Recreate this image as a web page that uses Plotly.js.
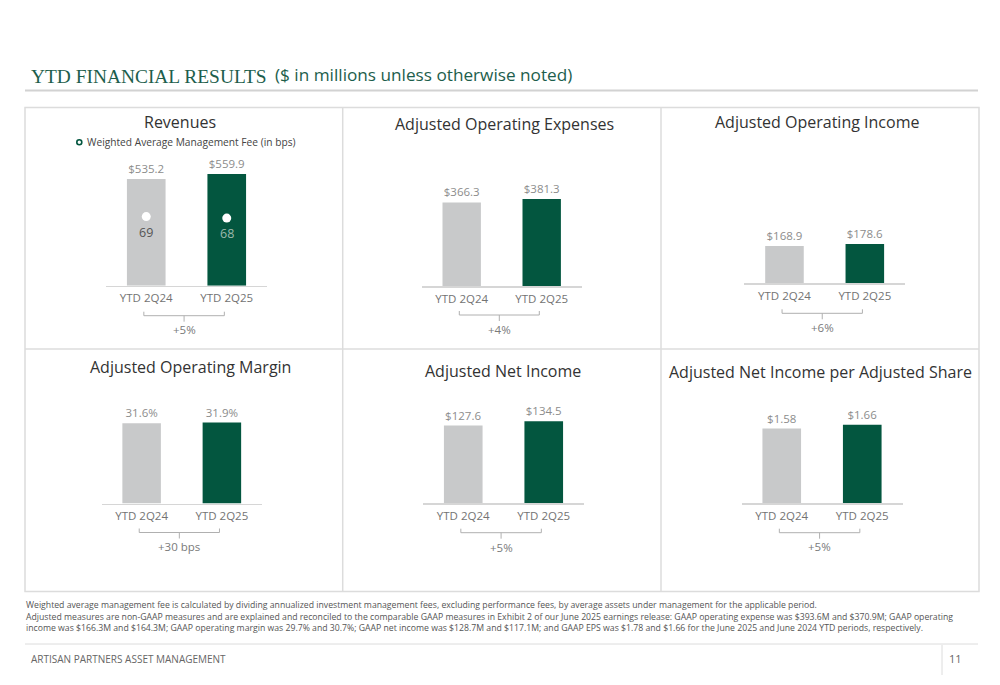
<!DOCTYPE html>
<html>
<head>
<meta charset="utf-8">
<script src="https://cdn.plot.ly/plotly-3.0.1.min.js"></script>
<style>html,body{margin:0;padding:0;background:#fff;}#chart{width:1000px;height:685px;}</style>
</head>
<body>
<div id="chart"></div>
<script>
// ---- Data ----
const categories = ['YTD 2Q24', 'YTD 2Q25'];
const revenues = [535.2, 559.9];
const mgmtFeeBps = [69, 68];
const adjOpExpenses = [366.3, 381.3];
const adjOpIncome = [168.9, 178.6];
const adjOpMargin = [31.6, 31.9];
const adjNetIncome = [127.6, 134.5];
const adjEPS = [1.58, 1.66];
const panelTitles = ['Revenues', 'Adjusted Operating Expenses', 'Adjusted Operating Income',
  'Adjusted Operating Margin', 'Adjusted Net Income', 'Adjusted Net Income per Adjusted Share'];
const changeLabels = ['+5%', '+4%', '+6%', '+30 bps', '+5%', '+5%'];
const feeLegend = 'Weighted Average Management Fee (in bps)';
const footnotes = [
  'Weighted average management fee is calculated by dividing annualized investment management fees, excluding performance fees, by average assets under management for the applicable period.',
  'Adjusted measures are non-GAAP measures and are explained and reconciled to the comparable GAAP measures in Exhibit 2 of our June 2025 earnings release: GAAP operating expense was $393.6M and $370.9M; GAAP operating',
  'income was $166.3M and $164.3M; GAAP operating margin was 29.7% and 30.7%; GAAP net income was $128.7M and $117.1M; and GAAP EPS was $1.78 and $1.66 for the June 2025 and June 2024 YTD periods, respectively.'
];

// ---- Styling ----
const W = 1000, H = 685;
const px = x => x / W;
const py = y => 1 - y / H;
const barColors = ['#c8c9ca', '#03563f'];
const green = '#1d5e4c';
const FONT = 'Open Sans, sans-serif';

const fmtMoney1 = v => '$' + v.toFixed(1);
const fmtPct = v => v.toFixed(1) + '%';
const fmtMoney2 = v => '$' + v.toFixed(2);

const series = [
  {y: revenues, fmt: fmtMoney1},
  {y: adjOpExpenses, fmt: fmtMoney1},
  {y: adjOpIncome, fmt: fmtMoney1},
  {y: adjOpMargin, fmt: fmtPct},
  {y: adjNetIncome, fmt: fmtMoney1},
  {y: adjEPS, fmt: fmtMoney2}
];

// panel geometry in pixels
const geom = [
  {x0: 106, x1: 267, base: 285.7, top: 140, ymax: 731, brY: 315.7, lblY: 329.5, tx: 180, ty: 122.5},
  {x0: 421.7, x1: 581.7, base: 286.3, top: 140, ymax: 639, brY: 315, lblY: 329.3, tx: 504, ty: 124.3},
  {x0: 744.3, x1: 905, base: 283.3, top: 140, ymax: 650, brY: 313.3, lblY: 327.6, tx: 817, ty: 122.5},
  {x0: 101.5, x1: 262, base: 503.5, top: 390, ymax: 44.7, brY: 532.5, lblY: 546.7, tx: 190, ty: 367.3},
  {x0: 423, x1: 584, base: 503.3, top: 390, ymax: 186, brY: 532.7, lblY: 547, tx: 503.5, ty: 371},
  {x0: 741.5, x1: 902.5, base: 503.3, top: 390, ymax: 2.395, brY: 532.7, lblY: 546.3, tx: 820.5, ty: 372}
];

const traces = [];
const layout = {
  width: W, height: H,
  margin: {l: 0, r: 0, t: 0, b: 0},
  paper_bgcolor: '#fff', plot_bgcolor: 'rgba(0,0,0,0)',
  showlegend: false,
  font: {family: FONT, color: '#555'},
  shapes: [], annotations: []
};

series.forEach((s, i) => {
  const n = i + 1;
  const g = geom[i];
  const xa = 'xaxis' + (n === 1 ? '' : n), ya = 'yaxis' + (n === 1 ? '' : n);
  const xr = 'x' + (n === 1 ? '' : n), yr = 'y' + (n === 1 ? '' : n);
  traces.push({
    type: 'bar', x: categories, y: s.y, xaxis: xr, yaxis: yr,
    marker: {color: barColors, line: {width: 0}},
    width: 0.48,
    text: s.y.map(s.fmt), textposition: 'outside', cliponaxis: false,
    textfont: {family: FONT, size: 11.5, color: '#8c8c8c'},
    hoverinfo: 'skip'
  });
  layout[xa] = {
    domain: [px(g.x0), px(g.x1)], anchor: yr, type: 'category', range: [-0.5, 1.5],
    showline: true, linecolor: '#d6d6d6', linewidth: 1.5, ticks: '', showgrid: false, zeroline: false,
    ticklabelstandoff: 1,
    tickfont: {family: FONT, size: 11.5, color: '#737373'}, fixedrange: true
  };
  layout[ya] = {
    domain: [py(g.base), py(g.top)], anchor: xr, range: [0, g.ymax], visible: false, fixedrange: true
  };
  // bracket
  const lc = {color: '#b0b0b0', width: 1};
  layout.shapes.push(
    {type: 'line', xref: xr, yref: 'paper', x0: -0.03, x1: 0.97, y0: py(g.brY), y1: py(g.brY), line: lc},
    {type: 'line', xref: xr, yref: 'paper', x0: -0.03, x1: -0.03, y0: py(g.brY), y1: py(g.brY - 4), line: lc},
    {type: 'line', xref: xr, yref: 'paper', x0: 0.97, x1: 0.97, y0: py(g.brY), y1: py(g.brY - 4), line: lc},
    {type: 'line', xref: xr, yref: 'paper', x0: 0.47, x1: 0.47, y0: py(g.brY), y1: py(g.brY + 6), line: lc}
  );
  layout.annotations.push({
    xref: xr, yref: 'paper', x: 0.47, y: py(g.lblY), text: changeLabels[i], showarrow: false,
    xanchor: 'center', yanchor: 'middle', font: {family: FONT, size: 11.5, color: '#7a7a7a'}
  });
  layout.annotations.push({
    xref: 'paper', yref: 'paper', x: px(g.tx), y: py(g.ty), text: panelTitles[i], showarrow: false,
    xanchor: 'center', yanchor: 'middle', font: {family: FONT, size: 16, color: '#333'}
  });
});

// management fee dots on secondary axis of panel 1
traces.push({
  type: 'scatter', mode: 'markers', x: categories, y: mgmtFeeBps, xaxis: 'x', yaxis: 'y7',
  marker: {color: '#ffffff', size: 9, line: {width: 0}},
  cliponaxis: false, hoverinfo: 'skip'
});
layout.yaxis7 = {overlaying: 'y', range: [23, 120], visible: false, fixedrange: true};
const feeLabelColors = ['#555555', '#9cb9ad'];
mgmtFeeBps.forEach((v, k) => {
  layout.annotations.push({xref: 'x', yref: 'y7', x: categories[k], y: v, yshift: -15.5, text: String(v),
    showarrow: false, xanchor: 'center', yanchor: 'middle',
    font: {family: FONT, size: 12.5, color: feeLabelColors[k]}});
});

// legend for the dots
layout.shapes.push({type: 'circle', xref: 'paper', yref: 'paper',
  x0: px(76.8), x1: px(81.8), y0: py(144.8), y1: py(139.8), line: {color: '#03563f', width: 1.6}, fillcolor: '#fff'});
layout.annotations.push({xref: 'paper', yref: 'paper', x: px(84.5), y: py(142.3), text: feeLegend,
  showarrow: false, xanchor: 'left', yanchor: 'middle', font: {family: FONT, size: 10.2, color: '#444'}});

// panel frame
const fc = {color: '#dcdcdc', width: 1.5};
layout.shapes.push(
  {type: 'rect', xref: 'paper', yref: 'paper', x0: px(25), x1: px(979), y0: py(107.5), y1: py(591.5), line: fc},
  {type: 'line', xref: 'paper', yref: 'paper', x0: px(342.7), x1: px(342.7), y0: py(107.5), y1: py(591.5), line: fc},
  {type: 'line', xref: 'paper', yref: 'paper', x0: px(661), x1: px(661), y0: py(107.5), y1: py(591.5), line: fc},
  {type: 'line', xref: 'paper', yref: 'paper', x0: px(25), x1: px(979), y0: py(349), y1: py(349), line: fc},
  // title underline
  {type: 'line', xref: 'paper', yref: 'paper', x0: px(25), x1: px(978), y0: py(90.5), y1: py(90.5), line: {color: '#d2d2d2', width: 2}},
  // footer
  {type: 'line', xref: 'paper', yref: 'paper', x0: px(25), x1: px(978), y0: py(644), y1: py(644), line: {color: '#dcdcdc', width: 1}},
  {type: 'line', xref: 'paper', yref: 'paper', x0: px(942), x1: px(942), y0: py(645), y1: py(675), line: {color: '#dcdcdc', width: 1}}
);

// page title
layout.annotations.push(
  {xref: 'paper', yref: 'paper', x: px(29), y: py(76), text: 'YTD FINANCIAL RESULTS', showarrow: false,
    xanchor: 'left', yanchor: 'middle', font: {family: 'Liberation Serif, serif', size: 19.4, color: green}},
  {xref: 'paper', yref: 'paper', x: px(273), y: py(75), text: '($ in millions unless otherwise noted)', showarrow: false,
    xanchor: 'left', yanchor: 'middle', font: {family: FONT, size: 17.2, color: green}}
);

// footnotes
footnotes.forEach((t, k) => {
  layout.annotations.push({xref: 'paper', yref: 'paper', x: px(24), y: py(605 + k * 11.7), text: t, showarrow: false,
    xanchor: 'left', yanchor: 'middle', font: {family: FONT, size: 8.7, color: '#555'}});
});
layout.annotations.push(
  {xref: 'paper', yref: 'paper', x: px(29), y: py(658.5), text: 'ARTISAN PARTNERS ASSET MANAGEMENT', showarrow: false,
    xanchor: 'left', yanchor: 'middle', font: {family: FONT, size: 10, color: '#666'}},
  {xref: 'paper', yref: 'paper', x: px(955), y: py(658.5), text: '11', showarrow: false,
    xanchor: 'center', yanchor: 'middle', font: {family: FONT, size: 11, color: '#666'}}
);

Plotly.newPlot('chart', traces, layout, {staticPlot: true, displayModeBar: false});
</script>
</body>
</html>
